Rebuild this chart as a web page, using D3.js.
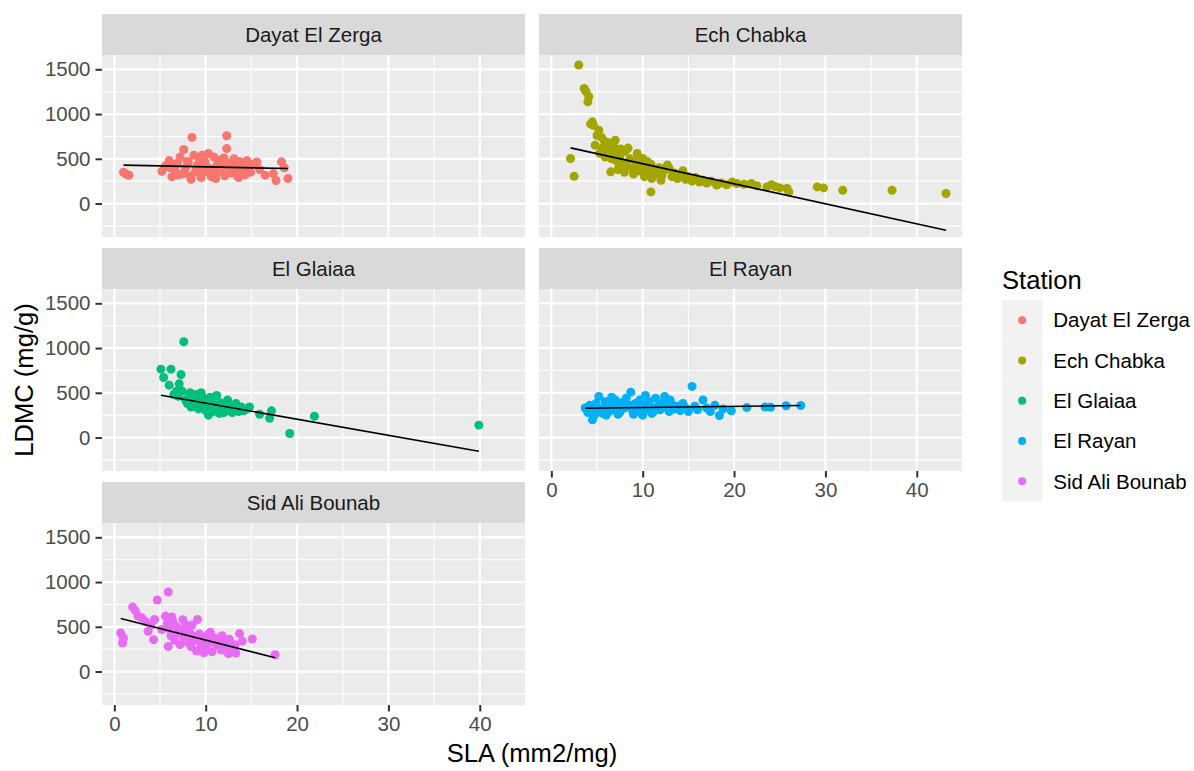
<!DOCTYPE html>
<html>
<head>
<meta charset="utf-8">
<script src="https://cdn.jsdelivr.net/npm/d3@7"></script>
<style>
  body { margin: 0; background: #ffffff; }
  svg { display: block; }
  text { font-family: "Liberation Sans", Arial, sans-serif; }
</style>
</head>
<body>
<svg id="chart" width="1194" height="771"></svg>
<script>
// Stations (facets) and their colours
const stations = ["Dayat El Zerga", "Ech Chabka", "El Glaiaa", "El Rayan", "Sid Ali Bounab"];
const stationColors = ["#F8766D", "#A3A500", "#00BF7D", "#00B0F6", "#E76BF3"];

// Axis ticks and shared scale limits
const xTicks = [0, 10, 20, 30, 40];
const yTicks = [0, 500, 1000, 1500];
const xMinor = [5, 15, 25, 35];
const yMinor = [-250, 250, 750, 1250];
const xDomain = [-1.35, 44.95];
const yDomain = [-374, 1660];

// Observations per station: [SLA (mm2/mg), LDMC (mg/g)]
const dayatElZerga = [
  [1.0,350],[1.3,330],[1.6,316],[5.2,360],[5.6,420],[6.0,480],[6.3,300],[6.6,380],[6.9,450],[7.2,520],
  [7.5,340],[7.6,604],[7.8,400],[8.1,460],[8.3,310],[8.5,739],[8.7,540],[8.9,370],[9.1,430],[9.3,500],
  [9.5,290],[9.7,350],[9.9,470],[10.1,410],[10.3,560],[10.5,330],[10.7,390],[10.9,520],[11.1,280],[11.3,440],
  [11.5,360],[11.7,490],[11.9,420],[12.1,310],[12.3,757],[12.3,614],[12.5,380],[12.7,450],[12.9,340],[13.1,500],
  [13.3,410],[13.5,300],[13.7,470],[13.9,360],[14.1,430],[14.3,320],[14.5,480],[14.7,390],[14.9,350],[15.2,440],
  [15.6,465],[15.9,380],[16.5,317],[17.4,335],[17.7,258],[18.3,466],[18.6,400],[19.0,280],
  [6.1,400],[7.0,320],[8.0,470],[9.0,350],[10.0,430],[11.0,300],[12.0,510],[13.0,380],[14.0,420],[8.4,270],
  [9.6,540],[10.6,300],[11.6,460],[12.6,380],[13.6,290],[7.4,330],[6.8,440]
];
const echChabka = [
  [3.0,1548],[3.6,1287],[3.8,1250],[4.1,1193],[4.0,1137],[4.5,913],[4.6,875],[4.3,890],[5.2,820],[4.8,652],
  [5.0,760],[5.5,739],[5.8,700],[6.2,680],[6.0,610],[2.1,503],[2.5,305],[6.5,354],[10.9,130],
  [5.3,560],[5.6,620],[5.9,520],[6.3,590],[6.6,500],[6.9,560],[7.0,708],[7.2,470],[7.5,530],[7.8,450],
  [8.1,585],[8.3,420],[8.6,500],[8.9,390],[9.2,470],[9.5,430],[9.8,360],[10.0,503],[10.3,410],[10.6,350],
  [10.9,440],[11.2,380],[11.5,330],[11.8,400],[12.1,310],[12.4,370],[12.9,391],[13.2,300],[13.5,340],[13.8,280],
  [14.1,320],[14.4,366],[14.7,270],[15.0,300],[15.4,250],[15.8,290],[16.2,240],[16.6,261],[17.0,230],[17.5,250],
  [18.1,205],[18.6,230],[19.2,210],[19.8,240],[20.3,224],[21.1,215],[21.9,224],[22.5,200],[23.6,186],[24.1,210],
  [24.5,190],[25.0,175],[25.8,168],[26.0,130],[29.1,186],[29.8,175],[31.9,149],[37.3,149],[43.2,112],
  [7.3,380],[8.0,350],[9.0,330],[10.2,300],[11.0,280],[12.0,260],[8.4,620],[9.4,560],[6.8,650],[7.6,610],
  [10.5,470],[12.7,430]
];
const elGlaiaa = [
  [7.6,1070],[5.1,764],[6.2,764],[5.4,671],[7.3,705],[6.0,585],[6.8,518],[7.1,600],[19.2,45],[21.9,238],
  [39.9,138],[17.2,298],[17.0,215],[15.9,260],[14.8,342],
  [7.8,420],[8.0,380],[8.2,460],[8.4,340],[8.6,410],[8.8,370],[9.0,480],[9.2,320],[9.4,400],[9.6,350],
  [9.8,440],[10.0,300],[10.2,380],[10.4,330],[10.6,420],[10.8,290],[11.0,360],[11.2,470],[11.4,310],[11.6,390],
  [11.8,340],[12.0,280],[12.2,360],[12.4,420],[12.6,300],[12.8,350],[13.0,320],[13.3,380],[13.6,290],[13.9,340],
  [14.2,300],[14.5,320],[8.3,500],[9.5,500],[10.5,450],[7.0,460],[7.4,520],[6.5,480],[12.9,280],[11.5,270],
  [10.3,250]
];
const elRayan = [
  [3.7,330],[4.0,280],[4.2,360],[4.4,300],[4.5,198],[4.7,250],[4.9,380],[5.2,459],[5.4,320],[5.6,270],
  [5.9,400],[6.1,340],[6.3,290],[6.5,370],[6.8,310],[7.0,420],[7.2,350],[7.5,280],[7.7,390],[8.0,330],
  [8.2,440],[8.5,360],[8.7,507],[8.9,300],[9.2,380],[9.4,330],[9.7,420],[9.9,280],[10.2,360],[10.4,310],
  [10.7,400],[10.9,340],[11.2,290],[11.4,440],[11.7,350],[11.9,310],[12.2,390],[12.4,459],[12.7,330],[12.9,290],
  [13.2,370],[13.5,320],[13.8,350],[14.1,300],[14.4,380],[14.7,330],[15.0,290],[15.4,571],[15.7,350],[16.0,310],
  [16.6,420],[17.0,330],[17.4,290],[17.9,360],[18.4,246],[18.8,320],[19.7,299],[21.4,335],[23.4,340],[24.0,338],
  [25.7,355],[27.3,358],[5.0,300],[6.0,250],[7.3,260],[9.0,260],[10.0,250],[11.0,270],[6.6,450],[10.3,470],
  [13.0,420]
];
const sidAliBounab = [
  [5.9,889],[4.7,799],[2.0,720],[0.7,431],[0.9,319],[1.0,375],[9.1,581],[15.1,364],[17.6,188],[13.7,424],
  [13.3,206],[4.3,356],[3.7,450],[2.6,619],[4.4,581],[5.9,281],[2.3,680],[3.0,600],[3.4,560],[4.0,520],
  [5.2,470],[5.6,620],[5.8,540],[6.0,480],[6.2,400],[6.4,560],[6.6,350],[6.8,500],[7.0,430],[7.2,300],
  [7.4,470],[7.6,380],[7.8,520],[8.0,330],[8.2,440],[8.4,280],[8.6,400],[8.8,350],[9.0,230],[9.3,420],
  [9.5,300],[9.7,370],[10.0,260],[10.2,410],[10.4,320],[10.7,220],[10.9,380],[11.2,290],[11.4,350],[11.7,240],
  [12.0,330],[12.3,280],[12.6,360],[12.9,250],[13.2,300],[14.0,340],[6.3,610],[7.5,580],[8.5,520],[10.5,440],
  [11.8,400],[12.5,200],[9.8,210]
];
const stationData = [dayatElZerga, echChabka, elGlaiaa, elRayan, sidAliBounab];

// Linear fit per station (LDMC = intercept + slope * SLA)
const fitIntercept = [431, 669, 565, 323, 611];
const fitSlope = [-2.1, -22.4, -18.0, 1.27, -26.0];

// ---- layout ----
const colLeft = [102, 539];
const rowTop = [55, 289, 523];
const pw = 423, ph = 182, stripH = 41;
const tickFont = 20.5, titleFont = 25.6;

const svg = d3.select("#chart");
const x = d3.scaleLinear().domain(xDomain).range([0, pw]);
const y = d3.scaleLinear().domain(yDomain).range([ph, 0]);
const color = d3.scaleOrdinal().domain(stations).range(stationColors);
const plainNumber = d3.format("d");

stations.forEach((name, i) => {
  const col = i % 2, row = Math.floor(i / 2);
  const g = svg.append("g").attr("transform", `translate(${colLeft[col]},${rowTop[row]})`);

  // strip
  g.append("rect").attr("x", 0).attr("y", -stripH).attr("width", pw).attr("height", stripH)
    .attr("fill", "#D9D9D9");
  g.append("text").attr("x", pw / 2).attr("y", -stripH / 2).attr("dy", "0.35em")
    .attr("text-anchor", "middle").attr("font-size", tickFont).attr("fill", "#1A1A1A").text(name);

  // panel background and grid
  g.append("rect").attr("width", pw).attr("height", ph).attr("fill", "#EBEBEB");
  const clipId = "clip" + i;
  g.append("clipPath").attr("id", clipId).append("rect").attr("width", pw).attr("height", ph);

  g.selectAll(".xminor").data(xMinor).join("line")
    .attr("x1", d => x(d)).attr("x2", d => x(d)).attr("y1", 0).attr("y2", ph)
    .attr("stroke", "#ffffff").attr("stroke-width", 1.1);
  g.selectAll(".yminor").data(yMinor).join("line")
    .attr("y1", d => y(d)).attr("y2", d => y(d)).attr("x1", 0).attr("x2", pw)
    .attr("stroke", "#ffffff").attr("stroke-width", 1.1);
  g.selectAll(".xmajor").data(xTicks).join("line")
    .attr("x1", d => x(d)).attr("x2", d => x(d)).attr("y1", 0).attr("y2", ph)
    .attr("stroke", "#ffffff").attr("stroke-width", 2.2);
  g.selectAll(".ymajor").data(yTicks).join("line")
    .attr("y1", d => y(d)).attr("y2", d => y(d)).attr("x1", 0).attr("x2", pw)
    .attr("stroke", "#ffffff").attr("stroke-width", 2.2);

  // points
  const layer = g.append("g").attr("clip-path", `url(#${clipId})`);
  layer.selectAll("circle").data(stationData[i]).join("circle")
    .attr("cx", d => x(d[0])).attr("cy", d => y(d[1])).attr("r", 4.5)
    .attr("fill", color(name));

  // fitted line over the station's SLA range
  const ext = d3.extent(stationData[i], d => d[0]);
  const fit = ext.map(v => [v, fitIntercept[i] + fitSlope[i] * v]);
  layer.append("path").datum(fit)
    .attr("d", d3.line().x(d => x(d[0])).y(d => y(d[1])))
    .attr("fill", "none").attr("stroke", "#000000").attr("stroke-width", 1.6);

  // y axis on the first column
  if (col === 0) {
    const ax = g.append("g")
      .call(d3.axisLeft(y).tickValues(yTicks).tickFormat(plainNumber).tickSize(6.5).tickPadding(5));
    ax.select(".domain").remove();
    ax.selectAll(".tick line").attr("stroke", "#333333").attr("stroke-width", 2);
    ax.selectAll(".tick text").attr("font-size", tickFont).attr("fill", "#4D4D4D")
      .attr("font-family", "Liberation Sans, Arial, sans-serif");
  }
  // x axis on panels with nothing below them
  if (i + 2 >= stations.length) {
    const ax = g.append("g").attr("transform", `translate(0,${ph})`)
      .call(d3.axisBottom(x).tickValues(xTicks).tickFormat(plainNumber).tickSize(6.5).tickPadding(5));
    ax.select(".domain").remove();
    ax.selectAll(".tick line").attr("stroke", "#333333").attr("stroke-width", 2);
    ax.selectAll(".tick text").attr("font-size", tickFont).attr("fill", "#4D4D4D")
      .attr("font-family", "Liberation Sans, Arial, sans-serif");
  }
});

// axis titles
const plotCenterX = (colLeft[0] + colLeft[1] + pw) / 2;
svg.append("text").attr("x", plotCenterX).attr("y", 762).attr("text-anchor", "middle")
  .attr("font-size", titleFont).attr("fill", "#000").text("SLA (mm2/mg)");
const plotCenterY = (rowTop[0] + rowTop[2] + ph) / 2;
svg.append("text").attr("transform", `translate(33,${plotCenterY}) rotate(-90)`)
  .attr("text-anchor", "middle").attr("font-size", titleFont).attr("fill", "#000").text("LDMC (mg/g)");

// legend
const legend = svg.append("g").attr("transform", "translate(1002,300)");
const keySize = 40.3;
legend.append("text").attr("x", 0).attr("y", -11).attr("font-size", titleFont).attr("fill", "#000").text("Station");
const items = legend.selectAll(".item").data(stations).join("g")
  .attr("transform", (d, k) => `translate(0,${k * keySize})`);
items.append("rect").attr("width", keySize).attr("height", keySize).attr("fill", "#F2F2F2");
items.append("circle").attr("cx", keySize / 2).attr("cy", keySize / 2).attr("r", 4)
  .attr("fill", d => color(d));
items.append("text").attr("x", keySize + 11).attr("y", keySize / 2).attr("dy", "0.35em")
  .attr("font-size", tickFont).attr("fill", "#000").text(d => d);
</script>
</body>
</html>
